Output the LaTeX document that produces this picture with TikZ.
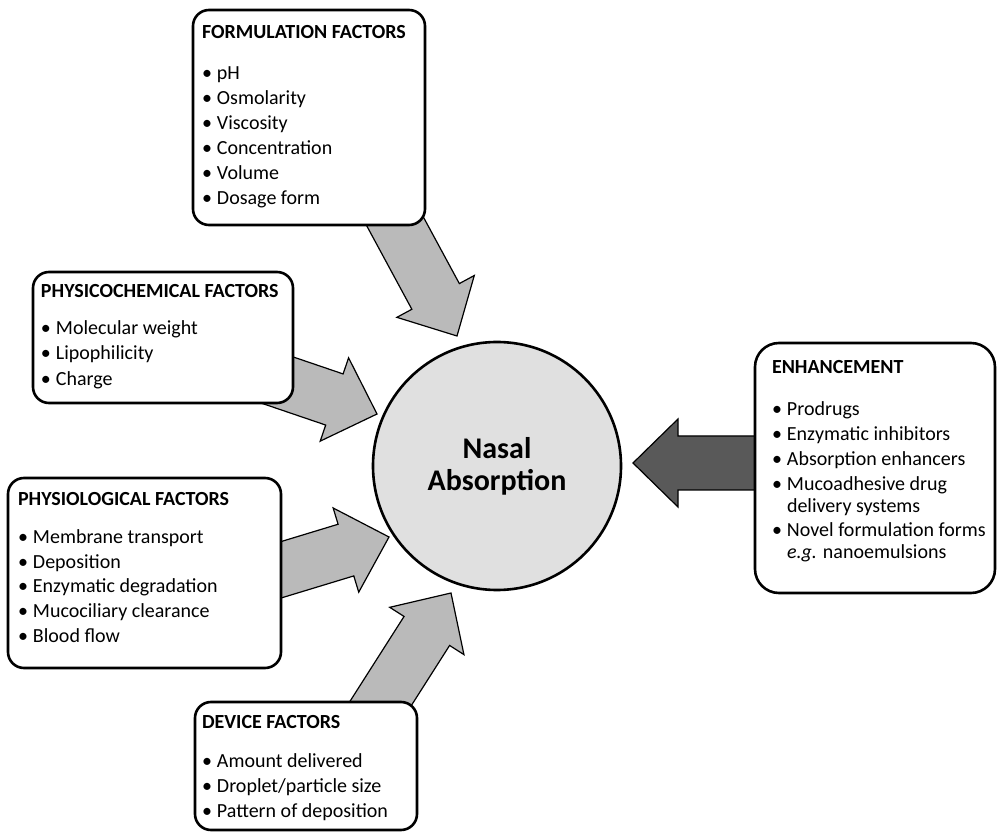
\documentclass[tikz,border=0pt]{standalone}
\usepackage{fontspec}
\setmainfont{Carlito}
\newcommand\bxtitle[1]{\hbox{\bfseries #1}}
\newcommand\bxitem[1]{\hbox{\makebox[15pt][l]{•}#1}}
\newcommand\bxcont[1]{\hbox{\hspace*{15pt}#1}}
\newcommand\blockarrow[4]{%
  \begin{scope}[shift={(#1)}, rotate=#2]
    \draw[#4] (0,0) -- (-45,44) -- (-45,27) -- (-#3,27) -- (-#3,-27) -- (-45,-27) -- (-45,-44) -- cycle;
  \end{scope}}
\begin{document}
\begin{tikzpicture}[x=1pt,y=-1pt,
  box/.style={draw=black, line width=2.6pt, rounded corners=#1, fill=white, inner sep=0pt, outer sep=0pt, anchor=north west},
  box/.default=16pt,
  txt/.style={inner sep=0pt, outer sep=0pt, anchor=base west, font=\fontsize{20}{25}\selectfont},
  lightarrow/.style={fill=black!27, draw=black, line width=1.2pt, line join=miter},
  darkarrow/.style={fill=black!65, draw=black, line width=1.2pt, line join=miter},
  hub/.style={circle, draw=black, line width=2.6pt, fill=black!12, minimum size=248pt, inner sep=0pt, align=center, font=\fontsize{30}{32}\selectfont\bfseries}
]
\useasboundingbox (0,0) rectangle (997,834);

% central node
\node[hub] (nasal) at (497,466) {Nasal\\Absorption};

% arrow tips
\coordinate (t1) at (457,336);
\coordinate (t2) at (377,414);
\coordinate (t3) at (389,537);
\coordinate (t4) at (451,593);
\coordinate (t5) at (633,463);

% block arrows (tails hidden behind boxes)
\blockarrow{t1}{-61.6}{150}{lightarrow}
\blockarrow{t2}{-18.8}{125}{lightarrow}
\blockarrow{t3}{16.9}{125}{lightarrow}
\blockarrow{t4}{57.5}{150}{lightarrow}
\blockarrow{t5}{180}{150}{darkarrow}

% boxes
\node[box, minimum width=232pt, minimum height=215pt] (form) at (193,10) {};
\node[box, minimum width=260pt, minimum height=131pt] (phys) at (33,272) {};
\node[box, minimum width=273pt, minimum height=190pt] (physio) at (8,478) {};
\node[box, minimum width=222pt, minimum height=128pt] (dev) at (195,702) {};
\node[box=24pt, minimum width=240pt, minimum height=250pt] (enh) at (755,343) {};

% texts
\node[txt] (formtxt) at (202,38.5) {\vtop{%
  \bxtitle{FORMULATION FACTORS}\vskip16pt
  \bxitem{pH}
  \bxitem{Osmolarity}
  \bxitem{Viscosity}
  \bxitem{Concentration}
  \bxitem{Volume}
  \bxitem{Dosage form}}};

\node[txt] (phystxt) at (41,297.5) {\vtop{%
  \bxtitle{PHYSICOCHEMICAL FACTORS}\vskip12pt
  \bxitem{Molecular weight}\vskip0.5pt
  \bxitem{Lipophilicity}\vskip0.5pt
  \bxitem{Charge}}};

\node[txt] (physiotxt) at (18,505) {\vtop{%
  \bxtitle{PHYSIOLOGICAL FACTORS}\vskip13pt
  \bxitem{Membrane transport}
  \bxitem{Deposition}
  \bxitem{Enzymatic degradation}
  \bxitem{Mucociliary clearance}
  \bxitem{Blood flow}}};

\node[txt] (devtxt) at (202,728) {\vtop{%
  \bxtitle{DEVICE FACTORS}\vskip14pt
  \bxitem{Amount delivered}
  \bxitem{Droplet/particle size}
  \bxitem{Pattern of deposition}}};

\node[txt] (enhtxt) at (772,374) {\vtop{%
  \bxtitle{ENHANCEMENT}\vskip17pt
  \bxitem{Prodrugs}
  \bxitem{Enzymatic inhibitors}
  \bxitem{Absorption enhancers}
  \bxitem{Mucoadhesive drug}\vskip-3pt
  \bxcont{delivery systems}\vskip-1pt
  \bxitem{Novel formulation forms}\vskip-3pt
  \bxcont{\textit{e.g.} nanoemulsions}}};
\end{tikzpicture}
\end{document}
